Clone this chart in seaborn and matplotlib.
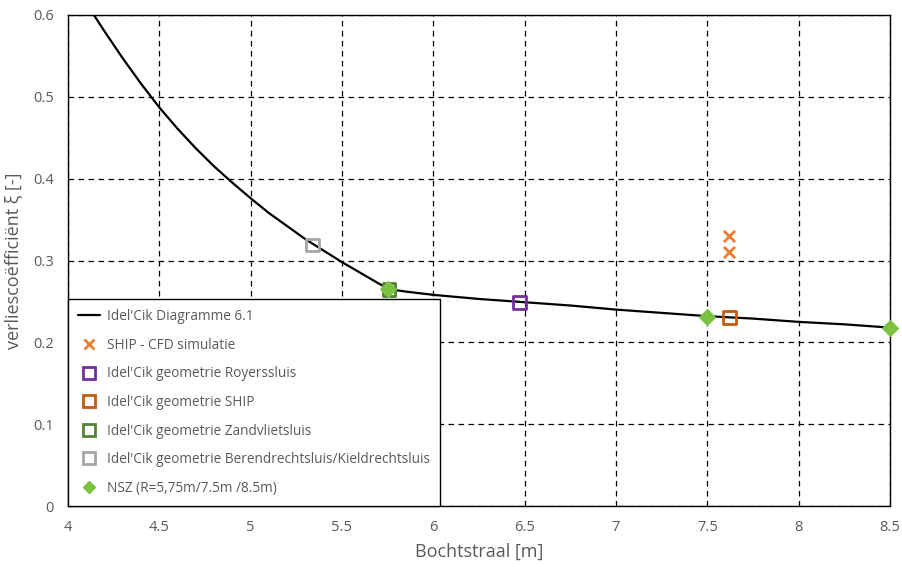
import matplotlib
matplotlib.use("Agg")
import matplotlib.pyplot as plt
import seaborn as sns
from matplotlib.lines import Line2D

# Idel'Cik curve (diagram 6.1)
curve_r = [4.142, 4.2, 4.3, 4.4, 4.5, 4.6, 4.7, 4.8, 4.9, 5.0, 5.1, 5.2, 5.3, 5.4, 5.5, 5.6, 5.7, 5.757,
           5.85, 6.0, 6.25, 6.5, 6.75, 7.0, 7.25, 7.5, 7.75, 8.0, 8.25, 8.5]
curve_xi = [0.600, 0.580, 0.547, 0.516, 0.487, 0.461, 0.437, 0.415, 0.395, 0.376, 0.358, 0.342, 0.326, 0.312,
            0.298, 0.285, 0.272, 0.265, 0.262, 0.258, 0.253, 0.249, 0.245, 0.240, 0.236, 0.232, 0.229, 0.225, 0.222, 0.218]

# SHIP CFD simulations
cfd_r = [7.62, 7.62]
cfd_xi = [0.330, 0.310]

# Idel'Cik geometry points
roy_r, roy_xi = [6.47], [0.249]
ship_r, ship_xi = [7.62], [0.230]
zand_r, zand_xi = [5.757], [0.265]
ber_r, ber_xi = [5.337], [0.319]

# NSZ
nsz_r = [5.75, 7.5, 8.5]
nsz_xi = [0.265, 0.231, 0.217]

x_ticks = [4, 4.5, 5, 5.5, 6, 6.5, 7, 7.5, 8, 8.5]
x_labels = ["4", "4.5", "5", "5.5", "6", "6.5", "7", "7.5", "8", "8.5"]
y_ticks = [0, 0.1, 0.2, 0.3, 0.4, 0.5, 0.6]
y_labels = ["0", "0.1", "0.2", "0.3", "0.4", "0.5", "0.6"]

sns.set_theme(style="white")
plt.rcParams["font.family"] = ["Open Sans", "DejaVu Sans"]
txt = "#595959"

fig = plt.figure(figsize=(9.03, 5.67), dpi=100)
ax = fig.add_axes([68 / 903, 61 / 567, 822 / 903, 491 / 567])

sns.lineplot(x=curve_r, y=curve_xi, ax=ax, color="black", linewidth=1.6, legend=False, zorder=3)

c_cfd = "#ED7D31"
c_roy = "#7030A0"
c_ship = "#C55A11"
c_zand = "#548235"
c_ber = "#A5A5A5"
c_nsz = "#7CC242"

sns.scatterplot(x=cfd_r, y=cfd_xi, ax=ax, marker="x", s=65, linewidth=2.0, color=c_cfd, legend=False, zorder=4)
for r, xi, c in [(roy_r, roy_xi, c_roy), (ship_r, ship_xi, c_ship), (zand_r, zand_xi, c_zand), (ber_r, ber_xi, c_ber)]:
    sns.scatterplot(x=r, y=xi, ax=ax, marker="s", s=85, facecolor="none", edgecolor=c, linewidth=2.0, legend=False, zorder=4)
sns.scatterplot(x=nsz_r, y=nsz_xi, ax=ax, marker="D", s=80, color=c_nsz, edgecolor=c_nsz, linewidth=0,
                legend=False, zorder=5, clip_on=False)

ax.set_xlim(4, 8.5)
ax.set_ylim(0, 0.6)
ax.set_xticks(x_ticks)
ax.set_xticklabels(x_labels)
ax.set_yticks(y_ticks)
ax.set_yticklabels(y_labels)
ax.tick_params(axis="both", colors=txt, labelsize=10.5)
ax.tick_params(axis="x", direction="in", length=4, color="black", pad=10)
ax.tick_params(axis="y", length=0, pad=10)
ax.grid(True, color="black", linestyle=(0, (4.5, 3.5)), linewidth=0.9)
for s in ax.spines.values():
    s.set_color("black")
    s.set_linewidth(1.0)
ax.set_xlabel("Bochtstraal [m]", color=txt, fontsize=13, labelpad=6)
ax.set_ylabel("verliescoëfficiënt ξ [-]", color=txt, fontsize=13, labelpad=8)

handles = [
    Line2D([], [], color="black", linewidth=1.6),
    Line2D([], [], color=c_cfd, marker="x", linestyle="none", markersize=7, markeredgewidth=2),
    Line2D([], [], color=c_roy, marker="s", linestyle="none", markersize=8, markerfacecolor="none", markeredgewidth=2),
    Line2D([], [], color=c_ship, marker="s", linestyle="none", markersize=8, markerfacecolor="none", markeredgewidth=2),
    Line2D([], [], color=c_zand, marker="s", linestyle="none", markersize=8, markerfacecolor="none", markeredgewidth=2),
    Line2D([], [], color=c_ber, marker="s", linestyle="none", markersize=8, markerfacecolor="none", markeredgewidth=2),
    Line2D([], [], color=c_nsz, marker="D", linestyle="none", markersize=6),
]
labels = [
    "Idel'Cik Diagramme 6.1",
    "SHIP - CFD simulatie",
    "Idel'Cik geometrie Royerssluis",
    "Idel'Cik geometrie SHIP",
    "Idel'Cik geometrie Zandvlietsluis",
    "Idel'Cik geometrie Berendrechtsluis/Kieldrechtsluis",
    "NSZ (R=5,75m/7.5m /8.5m)",
]
leg = ax.legend(handles, labels, loc="lower left", bbox_to_anchor=(0, 0), fontsize=9.8,
                frameon=True, fancybox=False, framealpha=1, edgecolor="black",
                handlelength=1.6, handletextpad=0.5, labelspacing=1.0, borderpad=0.75,
                borderaxespad=0)
leg.get_frame().set_linewidth(1.0)
leg.set_zorder(10)
for t in leg.get_texts():
    t.set_color(txt)

fig.savefig("out.png", dpi=100)
